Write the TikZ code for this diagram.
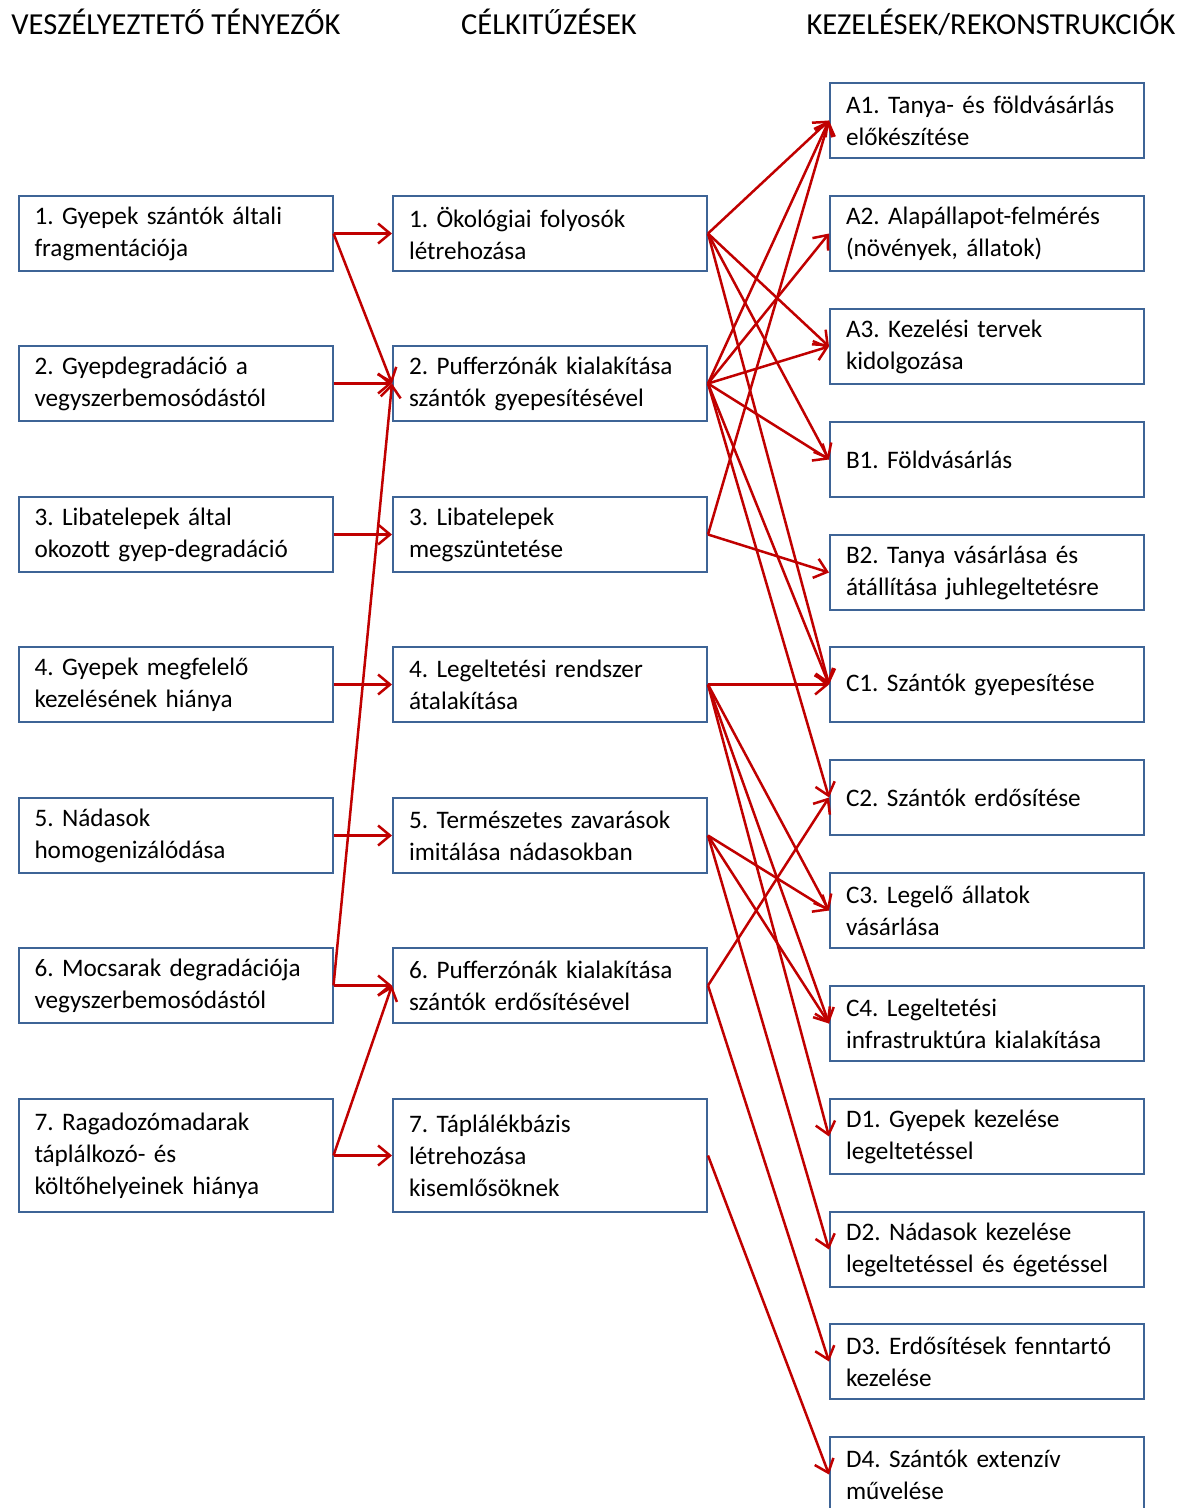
\documentclass[tikz,border=0pt]{standalone}
\usepackage{fontspec}
\setmainfont{Carlito}
\usetikzlibrary{arrows.meta}
\definecolor{boxblue}{RGB}{62,100,150}
\definecolor{arrred}{RGB}{192,0,0}
\begin{document}
\frenchspacing
\begin{tikzpicture}[x=1pt,y=-1pt,
  box/.style={draw=boxblue,line width=2pt,rectangle,inner xsep=16pt,inner ysep=0pt,
    text width=282pt,align=left,minimum height=75pt,font=\fontsize{25.2}{32}\selectfont},
  tall/.style={minimum height=113pt},
  hdr/.style={font=\fontsize{30.5}{34}\selectfont,inner sep=0pt},
  arr/.style={draw=arrred,line width=2.5pt,-{Straight Barb[length=12pt,width=20pt,line width=2.5pt]}}]
\useasboundingbox (0,0) rectangle (1187,1508);
% headers
\node[hdr] (h1) at (176,22) {VESZÉLYEZTETŐ TÉNYEZŐK};
\node[hdr] (h2) at (549,22) {CÉLKITŰZÉSEK};
\node[hdr] (h3) at (991,22) {KEZELÉSEK/REKONSTRUKCIÓK};
% left column
\node[box] (L1) at (175.5,233.5) {1. Gyepek szántók általi\\fragmentációja};
\node[box] (L2) at (175.5,383.5) {2. Gyepdegradáció a\\vegyszerbemosódástól};
\node[box] (L3) at (175.5,534.5) {3. Libatelepek által\\okozott gyep-degradáció};
\node[box] (L4) at (175.5,684.5) {4. Gyepek megfelelő\\kezelésének hiánya};
\node[box] (L5) at (175.5,835.5) {5. Nádasok\\homogenizálódása};
\node[box] (L6) at (175.5,985.5) {6. Mocsarak degradációja\\vegyszerbemosódástól};
\node[box,tall] (L7) at (175.5,1155.5) {7. Ragadozómadarak\\táplálkozó- és\\költőhelyeinek hiánya};
% middle column
\node[box] (M1) at (550,233.5) {1. Ökológiai folyosók\\létrehozása};
\node[box] (M2) at (550,383.5) {2. Pufferzónák kialakítása\\szántók gyepesítésével};
\node[box] (M3) at (550,534.5) {3. Libatelepek\\megszüntetése};
\node[box] (M4) at (550,684.5) {4. Legeltetési rendszer\\átalakítása};
\node[box] (M5) at (550,835.5) {5. Természetes zavarások\\imitálása nádasokban};
\node[box] (M6) at (550,985.5) {6. Pufferzónák kialakítása\\szántók erdősítésével};
\node[box,tall] (M7) at (550,1155.5) {7. Táplálékbázis\\létrehozása\\kisemlősöknek};
% right column
\node[box] (A1) at (987,120.5) {A1. Tanya- és földvásárlás\\előkészítése};
\node[box] (A2) at (987,233.5) {A2. Alapállapot-felmérés\\(növények, állatok)};
\node[box] (A3) at (987,346.5) {A3. Kezelési tervek\\kidolgozása};
\node[box] (B1) at (987,459.5) {B1. Földvásárlás};
\node[box] (B2) at (987,572.5) {B2. Tanya vásárlása és\\átállítása juhlegeltetésre};
\node[box] (C1) at (987,684.5) {C1. Szántók gyepesítése};
\node[box] (C2) at (987,797.5) {C2. Szántók erdősítése};
\node[box] (C3) at (987,910.5) {C3. Legelő állatok\\vásárlása};
\node[box] (C4) at (987,1023.5) {C4. Legeltetési\\infrastruktúra kialakítása};
\node[box] (D1) at (987,1136.5) {D1. Gyepek kezelése\\legeltetéssel};
\node[box] (D2) at (987,1249.5) {D2. Nádasok kezelése\\legeltetéssel és égetéssel};
\node[box] (D3) at (987,1361.5) {D3. Erdősítések fenntartó\\kezelése};
\node[box] (D4) at (987,1474.5) {D4. Szántók extenzív\\művelése};
% left -> middle
\draw[arr] (L1.east) -- (M1.west);
\draw[arr] (L1.east) -- (M2.west);
\draw[arr] (L2.east) -- (M2.west);
\draw[arr] (L3.east) -- (M3.west);
\draw[arr] (L4.east) -- (M4.west);
\draw[arr] (L5.east) -- (M5.west);
\draw[arr] (L6.east) -- (M6.west);
\draw[arr] (L6.east) -- (M2.west);
\draw[arr] (L7.east) -- (M6.west);
\draw[arr] (L7.east) -- (M7.west);
% middle -> right
\draw[arr] (M1.east) -- (A1.west);
\draw[arr] (M1.east) -- (A3.west);
\draw[arr] (M1.east) -- (B1.west);
\draw[arr] (M1.east) -- (C1.west);
\draw[arr] (M2.east) -- (A1.west);
\draw[arr] (M2.east) -- (A2.west);
\draw[arr] (M2.east) -- (A3.west);
\draw[arr] (M2.east) -- (B1.west);
\draw[arr] (M2.east) -- (C1.west);
\draw[arr] (M2.east) -- (C2.west);
\draw[arr] (M3.east) -- (A1.west);
\draw[arr] (M3.east) -- (B2.west);
\draw[arr] (M4.east) -- (C1.west);
\draw[arr] (M4.east) -- (C3.west);
\draw[arr] (M4.east) -- (C4.west);
\draw[arr] (M4.east) -- (D1.west);
\draw[arr] (M5.east) -- (C3.west);
\draw[arr] (M5.east) -- (C4.west);
\draw[arr] (M5.east) -- (D2.west);
\draw[arr] (M6.east) -- (C2.west);
\draw[arr] (M6.east) -- (D3.west);
\draw[arr] (M7.east) -- (D4.west);
\end{tikzpicture}
\end{document}
